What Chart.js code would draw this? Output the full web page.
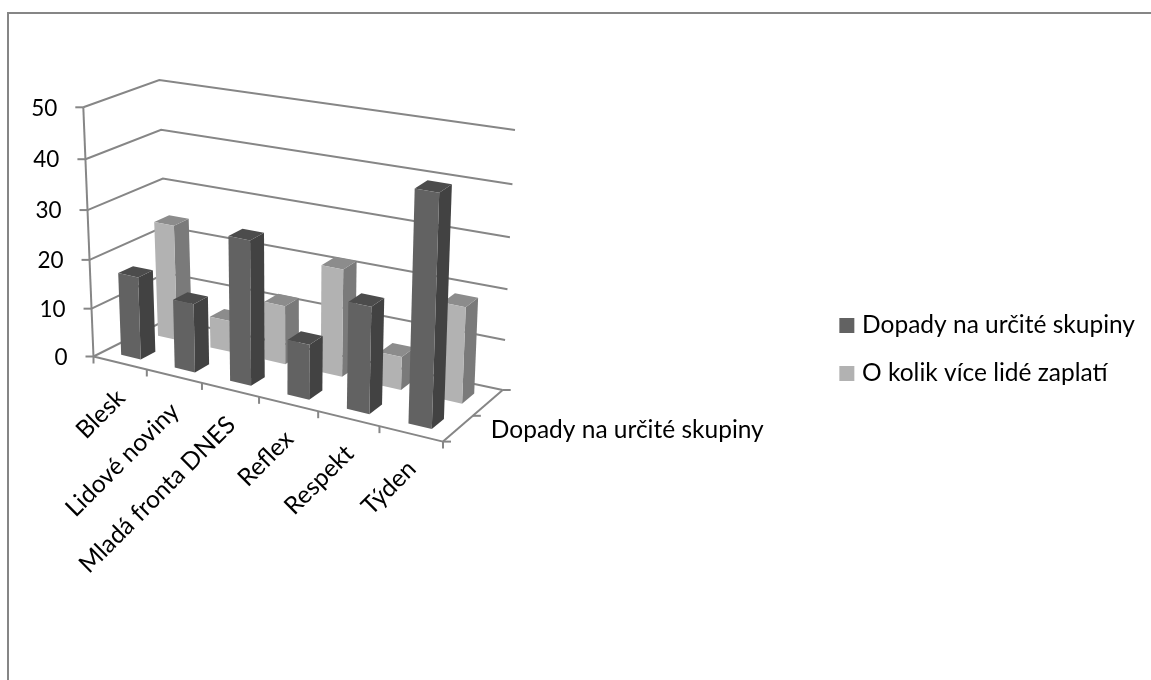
<!DOCTYPE html>
<html>
<head>
<meta charset="utf-8">
<style>
  html, body { margin: 0; background: #fff; }
  canvas { display: block; }
</style>
<script src="https://cdn.jsdelivr.net/npm/chart.js@4/dist/chart.umd.js"></script>
</head>
<body>
<canvas id="chart" width="1151" height="680"></canvas>
<script>
'use strict'

// chart values
const categories = ["Blesk", "Lidové noviny", "Mladá fronta DNES", "Reflex", "Respekt", "Týden"];
const depthLabel = "Dopady na určité skupiny";
const seriesNames = ["Dopady na určité skupiny", "O kolik více lidé zaplatí"];
const darkValues = [17, 14, 29, 11, 21, 44.5];
const lightValues = [24, 6.5, 12, 21.7, 6.7, 19];
const valueTicks = [0, 10, 20, 30, 40, 50];

const FONT = "Lato, sans-serif";
const LINE = "#868686";

// screen position of the box corners: [u][v] at value 0 and at the top value
const floorCorners = [[[93.5, 356.5], [168, 319]], [[443, 441.6], [502.7, 390]]];
const topCorners = [[[83.3, 107.3], [159.3, 80]], [[452, 172], [515, 130]]];

// slight perspective squeeze along an axis
function warp(t, a) {
    return a * t / (1 + (a - 1) * t);
}

function mix(p, q, t) {
    return [p[0] + (q[0] - p[0]) * t, p[1] + (q[1] - p[1]) * t];
}

// u: along categories, v: depth, w: value (all 0..1)
function project(u, v, w) {
    const su = warp(u, 0.9);
    const sw = warp(w, 0.95);
    const bottom = mix(mix(floorCorners[0][0], floorCorners[1][0], su), mix(floorCorners[0][1], floorCorners[1][1], su), v);
    const top = mix(mix(topCorners[0][0], topCorners[1][0], su), mix(topCorners[0][1], topCorners[1][1], su), v);
    return mix(bottom, top, sw);
}

function face(ctx, points, color) {
    ctx.fillStyle = color;
    ctx.beginPath();
    points.forEach((p, i) => i ? ctx.lineTo(p[0], p[1]) : ctx.moveTo(p[0], p[1]));
    ctx.closePath();
    ctx.fill();
}

function segment(ctx, p, q) {
    ctx.beginPath();
    ctx.moveTo(p[0], p[1]);
    ctx.lineTo(q[0], q[1]);
    ctx.stroke();
}

// bar controller that draws each bar as a box, positions come from the scales
class Box3dController extends Chart.BarController {
    draw() {
        const ctx = this.chart.ctx;
        const xs = this.chart.scales.x;
        const ys = this.chart.scales.y;
        const ds = this.getDataset();
        const v0 = ds.depthStart;
        const v1 = v0 + 0.2;
        this.getMeta().data.forEach(bar => {
            const u0 = (bar.x - bar.width / 2 - xs.left) / xs.width;
            const u1 = (bar.x + bar.width / 2 - xs.left) / xs.width;
            const w = (ys.bottom - bar.y) / ys.height;
            face(ctx, [project(u1, v0, 0), project(u1, v1, 0), project(u1, v1, w), project(u1, v0, w)], ds.sideColor);
            face(ctx, [project(u0, v0, w), project(u1, v0, w), project(u1, v1, w), project(u0, v1, w)], ds.topColor);
            face(ctx, [project(u0, v0, 0), project(u1, v0, 0), project(u1, v0, w), project(u0, v0, w)], ds.backgroundColor);
        });
    }
}
Box3dController.id = "box3d";
Box3dController.defaults = Chart.BarController.defaults;
Chart.register(Box3dController);

// frame, walls, floor, ticks and axis texts
const axisPlugin = {
    id: "axes3d",
    beforeDatasetsDraw(chart) {
        const ctx = chart.ctx;
        const ys = chart.scales.y;
        const xs = chart.scales.x;
        ctx.save();
        ctx.strokeStyle = LINE;
        ctx.lineWidth = 2;
        ctx.beginPath();
        ctx.moveTo(8, 680);
        ctx.lineTo(8, 13);
        ctx.lineTo(1151, 13);
        ctx.stroke();

        ctx.fillStyle = "#000";
        ctx.font = "22.5px " + FONT;
        ctx.textAlign = "right";
        ctx.textBaseline = "middle";
        valueTicks.forEach(val => {
            const w = (ys.bottom - ys.getPixelForValue(val)) / ys.height;
            const a = project(0, 0, w), b = project(0, 1, w), c = project(1, 1, w);
            ctx.beginPath();
            ctx.moveTo(a[0], a[1]);
            ctx.lineTo(b[0], b[1]);
            ctx.lineTo(c[0], c[1]);
            ctx.stroke();
            segment(ctx, a, [a[0] - 8, a[1]]);
            ctx.fillText(String(val), a[0] - 26, a[1] + 1);
        });
        segment(ctx, project(0, 0, 0), project(0, 0, 1));
        segment(ctx, project(0, 0, 0), project(1, 0, 0));
        segment(ctx, project(1, 0, 0), project(1, 1, 0));

        // category ticks sit between the bars
        for (let i = 0; i <= categories.length; i++) {
            const p = project(i / categories.length, 0, 0);
            segment(ctx, p, [p[0], p[1] + 7]);
        }
        [0, 0.5, 1].forEach(v => {
            const p = project(1, v, 0);
            segment(ctx, p, [p[0] + 8, p[1]]);
        });

        ctx.font = "24.5px " + FONT;
        categories.forEach((name, i) => {
            const p = project((xs.getPixelForValue(i) - xs.left) / xs.width, 0, 0);
            ctx.save();
            ctx.translate(p[0] + 1, p[1] + 31);
            ctx.rotate(-Math.PI / 4);
            ctx.fillText(name, 0, 0);
            ctx.restore();
        });

        const d = project(1, 0.5, 0);
        ctx.textAlign = "left";
        ctx.fillText(depthLabel, d[0] + 18, d[1] + 14);
        ctx.restore();
    }
};

new Chart(document.getElementById("chart"), {
    type: "box3d",
    plugins: [axisPlugin],
    data: {
        labels: categories,
        datasets: [
            { label: seriesNames[0], data: darkValues, depthStart: 0.15, backgroundColor: "#626262", sideColor: "#424242", topColor: "#4c4c4c", borderWidth: 0, grouped: false, barPercentage: 0.37, categoryPercentage: 1 },
            { label: seriesNames[1], data: lightValues, depthStart: 0.65, backgroundColor: "#b2b2b2", sideColor: "#7a7a7a", topColor: "#8c8c8c", borderWidth: 0, grouped: false, barPercentage: 0.37, categoryPercentage: 1 }
        ]
    },
    options: {
        responsive: false,
        animation: false,
        layout: { padding: { top: 19, right: 6 } },
        scales: {
            x: { display: false },
            y: { display: false, min: 0, max: 50, ticks: { stepSize: 10 } }
        },
        plugins: {
            tooltip: { enabled: false },
            legend: {
                position: "right",
                labels: { usePointStyle: true, pointStyle: "rect", boxWidth: 6, boxHeight: 15, padding: 23.5, color: "#000", font: { family: FONT, size: 24.5 } }
            }
        }
    }
});
</script>
</body>
</html>
